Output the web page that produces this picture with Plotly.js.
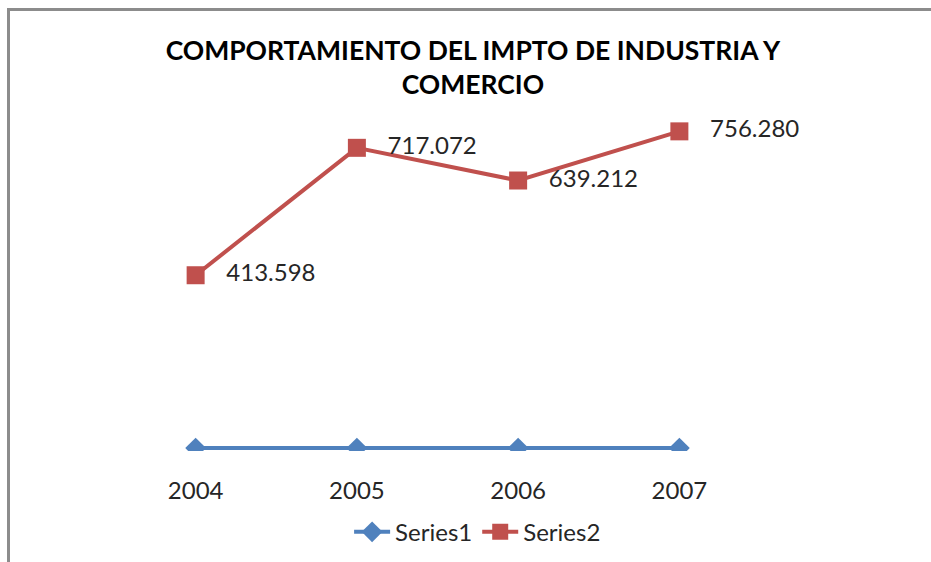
<!DOCTYPE html>
<html>
<head>
<meta charset="utf-8">
<script src="https://cdn.plot.ly/plotly-3.0.1.min.js"></script>
<style>
  html, body { margin: 0; padding: 0; background: #ffffff; }
  #wrap { position: relative; width: 931px; height: 562px; overflow: hidden; }
  #chart { width: 931px; height: 562px; }
  #frame { position: absolute; left: 7px; top: 8px; width: 940px; height: 560px;
           border-top: 3px solid #8c8c8c; border-left: 3px solid #8c8c8c; pointer-events: none; }
</style>
</head>
<body>
<div id="wrap">
  <div id="chart"></div>
  <div id="frame"></div>
</div>
<script>
const categories = ["2004", "2005", "2006", "2007"];
const series1 = [2004, 2005, 2006, 2007];
const series2 = [413598, 717072, 639212, 756280];
const seriesNames = ["Series1", "Series2"];
const titleText = "COMPORTAMIENTO DEL IMPTO DE INDUSTRIA Y<br>COMERCIO";

const FONT = "Lato, 'Open Sans', sans-serif";

const traces = [
  {
    x: categories, y: series1, name: seriesNames[0],
    type: "scatter", mode: "lines+markers",
    line: { color: "#4F81BD", width: 4 },
    marker: { symbol: "diamond", size: 16, color: "#4F81BD" },
    hoverinfo: "skip"
  },
  {
    x: categories, y: series2, name: seriesNames[1],
    type: "scatter", mode: "lines+markers+text",
    line: { color: "#C0504D", width: 4 },
    marker: { symbol: "square", size: 18, color: "#C0504D" },
    texttemplate: "\u00a0\u00a0\u00a0%{y:,.0f}",
    textposition: "middle right",
    textfont: { family: FONT, size: 24, color: "#262626" },
    cliponaxis: false,
    hoverinfo: "skip"
  }
];

const layout = {
  width: 931, height: 562,
  paper_bgcolor: "#ffffff", plot_bgcolor: "#ffffff",
  separators: ",.",
  margin: { l: 115, r: 171, t: 113, b: 111, autoexpand: false },
  title: {
    text: titleText,
    font: { family: FONT, size: 26.5, color: "#000000", weight: "bold" },
    x: 0.508, xref: "container", xanchor: "center",
    y: 0.894, yref: "container", yanchor: "top"
  },
  xaxis: {
    type: "category", range: [-0.5, 3.5], automargin: false,
    showgrid: false, zeroline: false, showline: false,
    ticks: "", ticklabelstandoff: 23,
    tickfont: { family: FONT, size: 24, color: "#262626" }
  },
  yaxis: {
    range: [-5000, 800000], visible: false, showgrid: false, zeroline: false, automargin: false
  },
  showlegend: true,
  legend: {
    orientation: "h", xref: "container", yref: "container",
    x: 0.513, xanchor: "center", y: 0.053, yanchor: "middle",
    font: { family: FONT, size: 24, color: "#262626" },
    bgcolor: "rgba(0,0,0,0)", itemwidth: 36, tracegroupgap: 0
  }
};

Plotly.newPlot("chart", traces, layout, { staticPlot: true, displayModeBar: false });
</script>
</body>
</html>
